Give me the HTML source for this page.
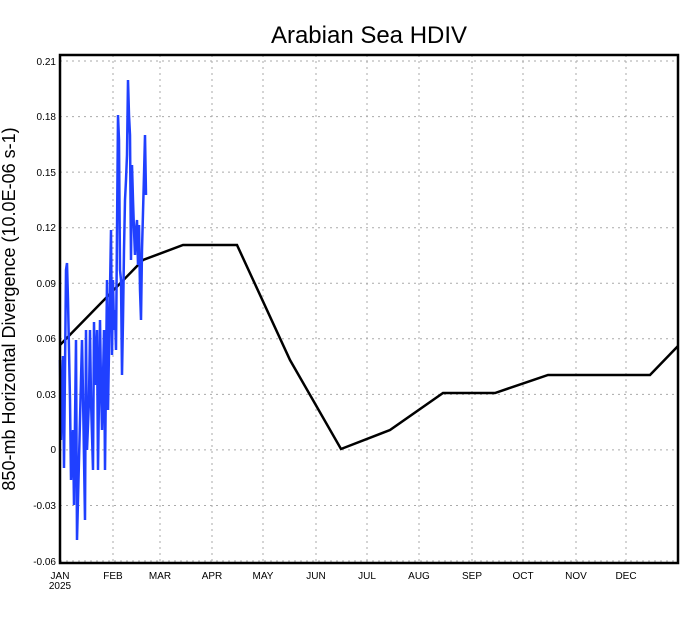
<!DOCTYPE html>
<html><head><style>
html,body{margin:0;padding:0;background:#fff;}
svg{display:block;font-family:"Liberation Sans",sans-serif;}
</style></head><body>
<svg width="690" height="618" viewBox="0 0 690 618" xmlns="http://www.w3.org/2000/svg">
<rect width="690" height="618" fill="#fff"/>
<text x="369" y="43" font-size="24" text-anchor="middle" fill="#000">Arabian Sea HDIV</text>
<g stroke="#aaa" stroke-width="1" stroke-dasharray="2,4">
<line x1="60" y1="61" x2="678" y2="61"/><line x1="60" y1="116.6" x2="678" y2="116.6"/>
<line x1="60" y1="172.1" x2="678" y2="172.1"/><line x1="60" y1="227.7" x2="678" y2="227.7"/>
<line x1="60" y1="283.2" x2="678" y2="283.2"/><line x1="60" y1="338.8" x2="678" y2="338.8"/>
<line x1="60" y1="394.4" x2="678" y2="394.4"/><line x1="60" y1="449.9" x2="678" y2="449.9"/>
<line x1="60" y1="505.5" x2="678" y2="505.5"/><line x1="60" y1="561" x2="678" y2="561"/>
<line x1="113" y1="55" x2="113" y2="563"/><line x1="160" y1="55" x2="160" y2="563"/>
<line x1="212" y1="55" x2="212" y2="563"/><line x1="263" y1="55" x2="263" y2="563"/>
<line x1="316" y1="55" x2="316" y2="563"/><line x1="367" y1="55" x2="367" y2="563"/>
<line x1="419" y1="55" x2="419" y2="563"/><line x1="472" y1="55" x2="472" y2="563"/>
<line x1="523" y1="55" x2="523" y2="563"/><line x1="576" y1="55" x2="576" y2="563"/>
<line x1="626" y1="55" x2="626" y2="563"/>
</g>
<polyline fill="none" stroke="#000" stroke-width="2.5" points="60,345 143,260 183,245 237,245 290,360 341,449 390,430 443,393 495,393 548,375 650,375 678,346"/>
<polyline fill="none" stroke="#2040ff" stroke-width="2.5" points="60,360 61,440 63,356 64,468 66,270 67,263 68,300 70,400 71,480 73,430 74,505 76,340 77,540 79,460 82,340 83,395 85,520 86,330 87,450 89,400 90,330 91,400 93,470 94,322 95,385 97,330 98,470 100,320 101,385 102,430 104,330 105,470 107,280 108,410 109,350 111,230 112,355 113,280 114,330 115,310 116,350 118,115 119,140 120,270 121,280 122,375 123,320 124,250 125,200 126,180 127,155 128,80 129,115 130,135 131,260 132,165 133,200 134,230 135,255 136,230 137,220 138,265 139,225 140,290 141,320 142,250 144,175 145,135 146,195"/>
<path d="M60,55 H678 V563 H60 Z" fill="none" stroke="#000" stroke-width="2.5"/>
<g font-size="10" fill="#000" text-anchor="end">
<text x="56" y="65">0.21</text><text x="56" y="120">0.18</text><text x="56" y="176">0.15</text>
<text x="56" y="231">0.12</text><text x="56" y="287">0.09</text><text x="56" y="342">0.06</text>
<text x="56" y="398">0.03</text><text x="56" y="453">0</text><text x="56" y="509">-0.03</text>
<text x="56" y="565">-0.06</text>
</g>
<g font-size="10" fill="#000" text-anchor="middle">
<text x="60" y="579">JAN</text><text x="60" y="589">2025</text>
<text x="113" y="579">FEB</text><text x="160" y="579">MAR</text><text x="212" y="579">APR</text>
<text x="263" y="579">MAY</text><text x="316" y="579">JUN</text><text x="367" y="579">JUL</text>
<text x="419" y="579">AUG</text><text x="472" y="579">SEP</text><text x="523" y="579">OCT</text>
<text x="576" y="579">NOV</text><text x="626" y="579">DEC</text>
</g>
<text transform="translate(15,309) rotate(-90)" font-size="18" text-anchor="middle" fill="#000">850-mb Horizontal Divergence (10.0E-06 s-1)</text>
</svg>
</body></html>
